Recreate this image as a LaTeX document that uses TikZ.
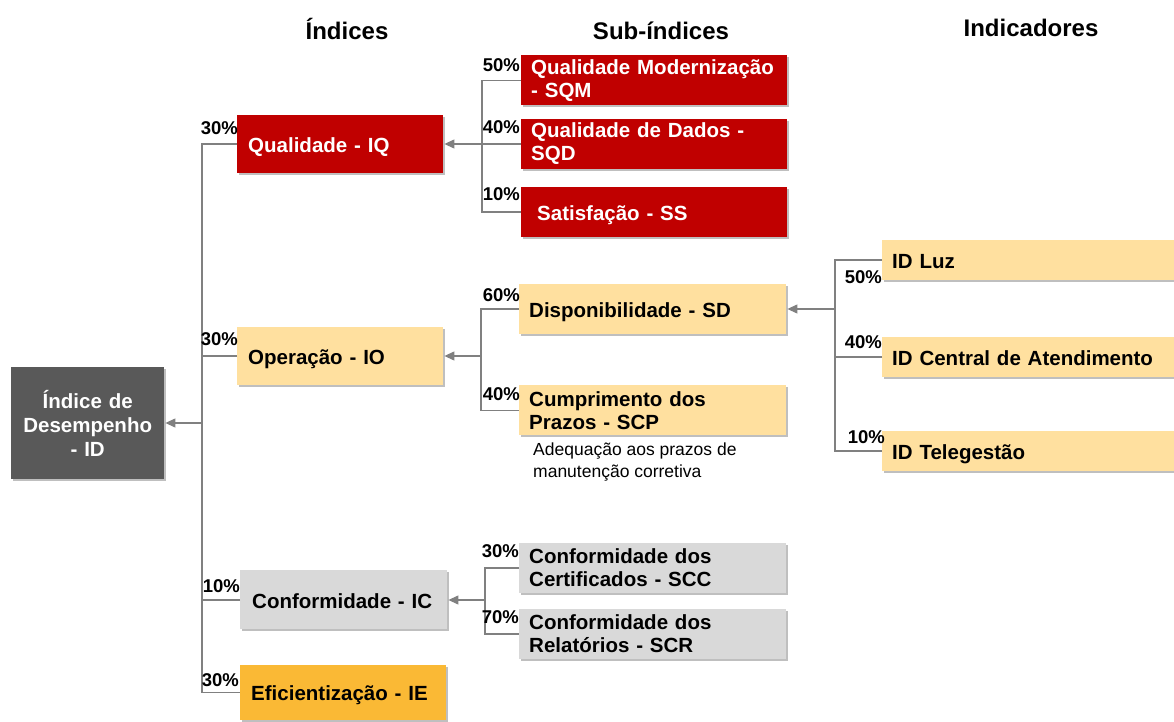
\documentclass[tikz,border=0pt]{standalone}
\usepackage{fontspec}
\setmainfont{Liberation Sans}
\usepackage{xcolor}
\usetikzlibrary{arrows.meta, shadows}

\definecolor{qred}{HTML}{C00000}
\definecolor{qcream}{HTML}{FFE09F}
\definecolor{qgray}{HTML}{D9D9D9}
\definecolor{qorange}{HTML}{FAB935}
\definecolor{qdark}{HTML}{595959}
\definecolor{qline}{HTML}{808080}

\begin{document}
\begin{tikzpicture}[
        x=1pt, y=1pt,
        box/.style={rectangle, anchor=west, inner ysep=0pt, inner xsep=11pt, align=left,
            font=\fontsize{20.5}{23}\selectfont\bfseries,
            drop shadow={shadow xshift=1.5pt, shadow yshift=-2pt, opacity=0.25, fill=black}},
        oneline/.style={text height=17pt, text depth=0pt},
        indice/.style={box, oneline, text width=184pt, minimum height=58pt},
        subindice/.style={box, inner xsep=10pt, text width=246pt, minimum height=50pt},
        indicador/.style={box, oneline, inner xsep=10pt, text width=272pt, minimum height=40pt},
        pct/.style={inner sep=0pt, anchor=base east, font=\fontsize{18.5}{20}\selectfont\bfseries},
        titulo/.style={font=\fontsize{24}{26}\selectfont\bfseries},
        nota/.style={inner sep=0pt, anchor=north west, align=left, font=\fontsize{17.5}{22}\selectfont},
        conn/.style={draw=qline, line width=1.2pt},
        arr/.style={conn, -{Triangle[length=10pt,width=9pt]}, shorten >=1pt}
    ]
    \useasboundingbox (0,0) rectangle (1174,722);

    % Column titles
    \node[titulo] (tIndices) at (347,693) {Índices};
    \node[titulo] (tSub) at (661,691) {Sub-índices};
    \node[titulo] (tInd) at (1031,694) {Indicadores};

    % Main index
    \node[box, inner xsep=4pt, text width=145pt, align=center, minimum height=112pt,
        fill=qdark, text=white, font=\fontsize{20.5}{24}\selectfont\bfseries] (id) at (11,299)
        {Índice de\\Desempenho\\- ID};

    % Indices
    \node[indice, fill=qred, text=white] (iq) at (237,578) {Qualidade - IQ};
    \node[indice, fill=qcream] (io) at (237,366) {Operação - IO};
    \node[indice, fill=qgray, minimum height=59pt, inner xsep=12pt, text width=183pt] (ic) at (240,122) {Conformidade - IC};
    \node[indice, fill=qorange, minimum height=55pt] (ie) at (240,29.5) {Eficientização - IE};

    % Sub-indices
    \node[subindice, fill=qred, text=white] (sqm) at (521,641.5) {Qualidade Modernização\\- SQM};
    \node[subindice, fill=qred, text=white] (sqd) at (521,578) {Qualidade de Dados -\\SQD};
    \node[subindice, oneline, fill=qred, text=white] (ss) at (521,510) {\hspace*{6pt}Satisfação - SS};
    \node[subindice, oneline, fill=qcream, text width=247pt] (sd) at (519,413) {Disponibilidade - SD};
    \node[subindice, fill=qcream, text width=247pt] (scp) at (519,311.5) {Cumprimento dos\\Prazos - SCP};
    \node[subindice, fill=qgray, text width=247pt] (scc) at (519,154) {Conformidade dos\\Certificados - SCC};
    \node[subindice, fill=qgray, text width=247pt] (scr) at (519,88) {Conformidade dos\\Relatórios - SCR};

    \node[nota] (notaSCP) at ([xshift=14pt,yshift=-7pt]scp.south west)
        {Adequação aos prazos de\\manutenção corretiva};

    % Indicators
    \node[indicador, fill=qcream] (luz) at (882,462) {ID Luz};
    \node[indicador, fill=qcream] (cen) at (882,365) {ID Central de Atendimento};
    \node[indicador, fill=qcream] (tel) at (882,271) {ID Telegestão};

    % Junctions
    \coordinate (jID) at (202,299);
    \coordinate (jIQ) at (482,578);
    \coordinate (jIO) at (481,366);
    \coordinate (jIC) at (485,122);
    \coordinate (jSD) at (835,413);

    % Indices -> main index
    \draw[conn] (iq.west) -| (jID) |- (ie.west);
    \draw[conn] (io.west) -- (io.west -| jID);
    \draw[conn] (ic.west) -- (ic.west -| jID);
    \draw[arr] (jID) -- (id.east);

    % Sub-indices -> indices
    \draw[conn] (sqm.west) -| (jIQ) |- (ss.west);
    \draw[conn] (sqd.west) -- (jIQ);
    \draw[arr] (jIQ) -- (iq.east);

    \draw[conn] (sd.west) -| (jIO) |- (scp.west);
    \draw[arr] (jIO) -- (io.east);

    \draw[conn] (scc.west) -| (jIC) |- (scr.west);
    \draw[arr] (jIC) -- (ic.east);

    % Indicators -> availability
    \draw[conn] (luz.west) -| (jSD) |- (tel.west);
    \draw[conn] (cen.west) -- (cen.west -| jSD);
    \draw[arr] (jSD) -- (sd.east);

    % Weights
    \node[pct] (pIQ) at ([shift={(1,9)}]iq.west) {30\%};
    \node[pct] (pIO) at ([shift={(1,10)}]io.west) {30\%};
    \node[pct] (pIC) at ([shift={(0,7)}]ic.west) {10\%};
    \node[pct] (pIE) at ([shift={(-1,6)}]ie.west) {30\%};
    \node[pct] (pSQM) at ([shift={(-1,9)}]sqm.west) {50\%};
    \node[pct] (pSQD) at ([shift={(-1,10)}]sqd.west) {40\%};
    \node[pct] (pSS) at ([shift={(-1,11)}]ss.west) {10\%};
    \node[pct] (pSD) at ([shift={(1,7)}]sd.west) {60\%};
    \node[pct] (pSCP) at ([shift={(1,10)}]scp.west) {40\%};
    \node[pct] (pSCC) at ([shift={(0,10)}]scc.west) {30\%};
    \node[pct] (pSCR) at ([shift={(0,10)}]scr.west) {70\%};
    \node[pct] (pLuz) at ([shift={(0,-24)}]luz.west) {50\%};
    \node[pct] (pCen) at ([shift={(0,8)}]cen.west) {40\%};
    \node[pct] (pTel) at ([shift={(3,7)}]tel.west) {10\%};
\end{tikzpicture}
\end{document}
